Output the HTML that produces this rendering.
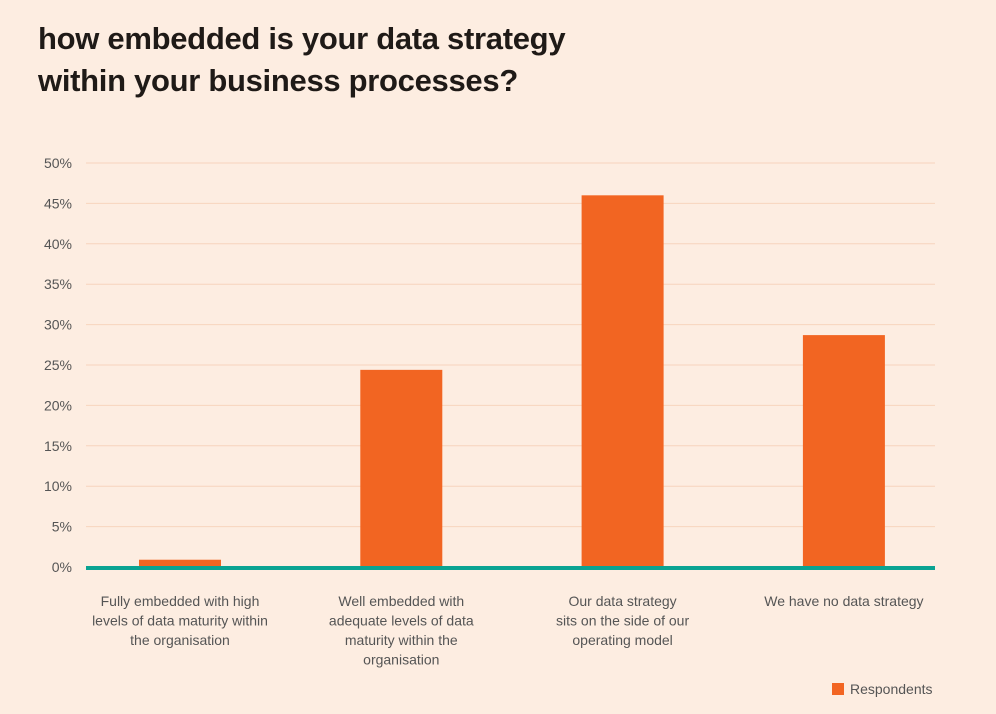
<!DOCTYPE html>
<html><head><meta charset="utf-8"><style>
body{margin:0;background:#fdede1;font-family:"Liberation Sans",sans-serif;}
#wrap{position:relative;width:996px;height:714px;overflow:hidden;background:#fdede1;}
h1{position:absolute;left:38px;top:18px;margin:0;font-size:31px;line-height:42px;font-weight:bold;color:#1f1a17;letter-spacing:-0.3px;}
</style></head><body>
<div id="wrap">
<h1>how embedded is your data strategy<br>within your business processes?</h1>
<svg id="chart" width="996" height="714" style="position:absolute;left:0;top:0"></svg>
</div>
<script>
const categories=[["Fully embedded with high","levels of data maturity within","the organisation"],["Well embedded with","adequate levels of data","maturity within the","organisation"],["Our data strategy","sits on the side of our","operating model"],["We have no data strategy"]];
const values=[0.9,24.4,46.0,28.7];
const yTicks=[0,5,10,15,20,25,30,35,40,45,50];
const ns="http://www.w3.org/2000/svg";
const svg=document.getElementById('chart');
const y0=567,pxPer=8.08,xL=86,xR=935,firstC=180,step=221.3,bw=82;
const y=v=>y0-v*pxPer;
const x=i=>firstC+i*step;
function mk(t,a){const e=document.createElementNS(ns,t);for(const k in a)e.setAttribute(k,a[k]);svg.appendChild(e);return e;}
yTicks.forEach(t=>{
 if(t>0){const l=mk('line',{x1:xL,x2:xR,y1:y(t),y2:y(t),stroke:'#f7d4bd','stroke-width':1});
 
 }
 const tx=mk('text',{x:72,y:y(t)+5,'text-anchor':'end','font-size':14,fill:'#555','font-family':'Liberation Sans, sans-serif'});
 tx.textContent=t+'%';
 
 
});
values.forEach((v,i)=>{
 const r=mk('rect',{x:x(i)-bw/2,y:y(v),width:bw,height:y0-y(v),fill:'#f26522'});
 
 
 const t=mk('text',{x:x(i),y:606,'text-anchor':'middle','font-size':14,fill:'#555','font-family':'Liberation Sans, sans-serif'});
 
 
 categories[i].forEach((ln,j)=>{const s=document.createElementNS(ns,'tspan');s.setAttribute('x',x(i));s.setAttribute('dy',j?19.5:0);s.textContent=ln;t.appendChild(s);});
});
const ax=mk('line',{x1:xL,x2:xR,y1:y0+1,y2:y0+1,stroke:'#0aa392','stroke-width':4});


const lr=mk('rect',{x:832,y:683,width:12,height:12,fill:'#f26522'});


const lt=mk('text',{x:850,y:694,'font-size':14,fill:'#555','font-family':'Liberation Sans, sans-serif'});
lt.textContent='Respondents';


</script>
</body></html>
